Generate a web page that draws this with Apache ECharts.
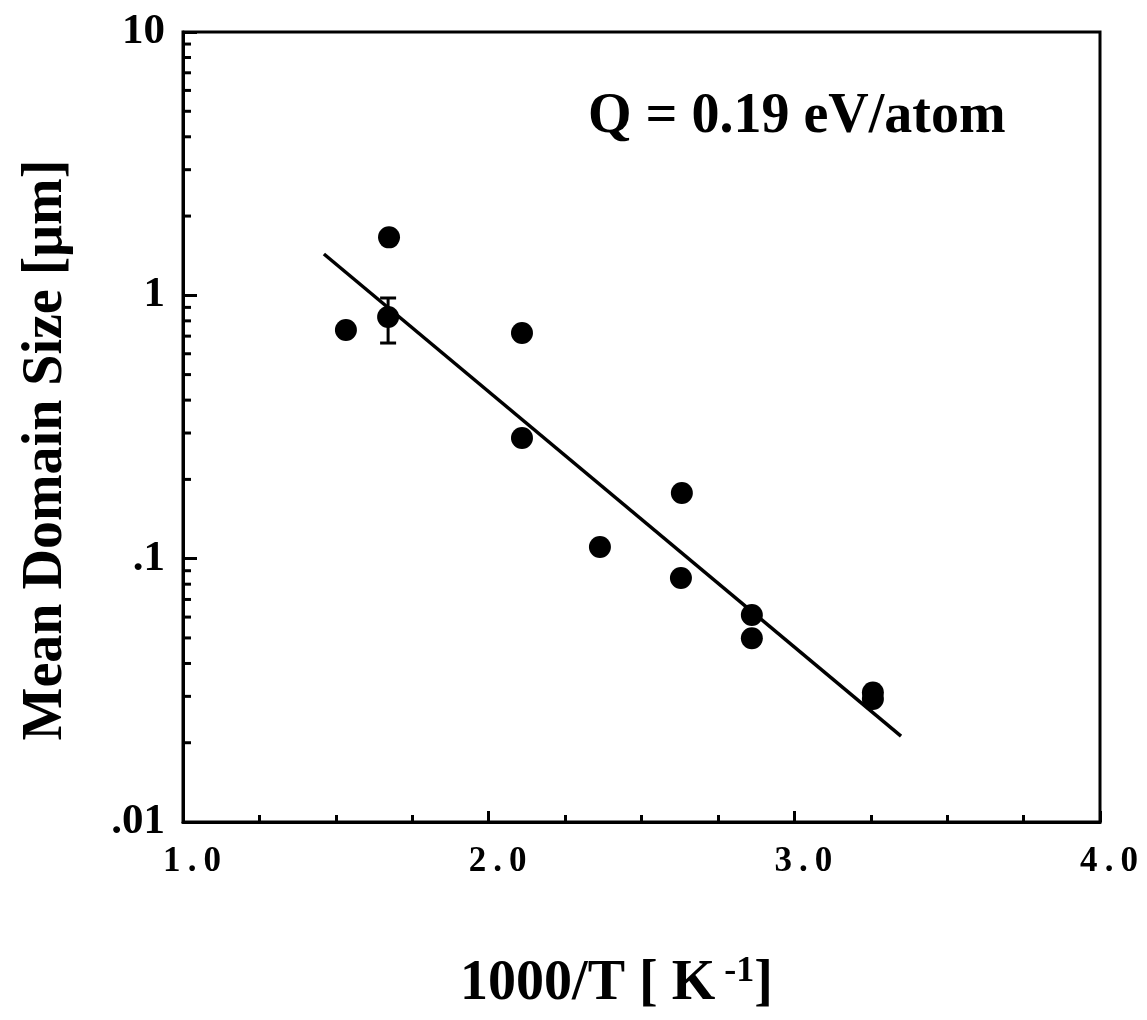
<!DOCTYPE html>
<html>
<head>
<meta charset="utf-8">
<script src="https://cdn.jsdelivr.net/npm/echarts@6/dist/echarts.min.js"></script>
<style>html,body{margin:0;padding:0;background:#fff}#c{width:1147px;height:1020px}</style>
</head>
<body>
<div id="c"></div>
<script>
// Data
const ptX = [1.533, 1.674, 1.671, 2.109, 2.109, 2.364, 2.632, 2.629, 2.861, 2.861, 3.257, 3.257];
const ptY = [0.738, 1.66, 0.827, 0.719, 0.287, 0.1107, 0.1775, 0.0844, 0.0611, 0.0499, 0.0310, 0.0293];
const fitX = [1.461, 3.349];
const fitY = [1.435, 0.0212];
const errX = [1.671];
const errLow = [0.659];
const errHigh = [0.977];
const yTickLabels = {'1': '10', '0': '1', '-1': '.1', '-2': '.01'};
const xTickLabels = {'1': '1\u2009.\u20090', '2': '2\u2009.\u20090', '3': '3\u2009.\u20090', '4': '4\u2009.\u20090'};
const yMinorTicks = [0.02,0.03,0.04,0.05,0.06,0.07,0.08,0.09,0.2,0.3,0.4,0.5,0.6,0.7,0.8,0.9,2,3,4,5,6,7,8,9];

const FONT = "'Liberation Serif','DejaVu Serif',serif";
const chart = echarts.init(document.getElementById('c'), null, {renderer: 'canvas'});
const X_MIN = 1, X_MAX = 4;

chart.setOption({
  animation: false,
  backgroundColor: '#fff',
  grid: {left: 183, top: 32, right: 47, bottom: 198, show: true, borderColor: '#000', borderWidth: 3, backgroundColor: 'transparent'},
  xAxis: {
    type: 'value', min: X_MIN, max: X_MAX, interval: 1,
    axisLine: {show: true, lineStyle: {color: '#000', width: 3}},
    axisTick: {show: true, inside: true, length: 11, lineStyle: {color: '#000', width: 3}},
    minorTick: {show: true, splitNumber: 4, length: 7, lineStyle: {color: '#000', width: 3}},
    splitLine: {show: false},
    axisLabel: {
      margin: 22, color: '#000', fontFamily: FONT, fontWeight: 'bold', fontSize: 35, padding: [0, 0, 0, 18],
      formatter: v => xTickLabels[String(Math.round(v))] || ''
    },
    name: '1000/T [ K{sup| -1}]',
    nameLocation: 'middle', nameGap: 132,
    nameTextStyle: {
      color: '#000', fontFamily: FONT, fontWeight: 'bold', fontSize: 56, padding: [0, 50, 0, 0],
      rich: {sup: {fontFamily: FONT, fontWeight: 'bold', fontSize: 36, color: '#000', verticalAlign: 'bottom', padding: [0, 0, 26, 0]}}
    }
  },
  yAxis: {
    type: 'log', logBase: 10, min: 0.01, max: 10,
    axisLine: {show: true, lineStyle: {color: '#000', width: 3}},
    axisTick: {show: true, inside: true, length: 14, lineStyle: {color: '#000', width: 3}},
    minorTick: {show: false},
    splitLine: {show: false},
    axisLabel: {
      margin: 18, color: '#000', fontFamily: FONT, fontWeight: 'bold', fontSize: 43,
      formatter: v => yTickLabels[String(Math.round(Math.log10(v)))] || ''
    },
    name: 'Mean Domain Size [μm]',
    nameLocation: 'middle', nameGap: 108,
    nameTextStyle: {color: '#000', fontFamily: FONT, fontWeight: 'bold', fontSize: 56, padding: [0, 46, 0, 0]}
  },
  graphic: [{
    type: 'text', left: 588, top: 90,
    style: {text: 'Q = 0.19 eV/atom', fill: '#000', font: "bold 56px " + FONT}
  }],
  series: [
    {
      type: 'custom', name: 'yMinor', silent: true, clip: false,
      data: yMinorTicks.map(v => [X_MIN, v]),
      renderItem: (params, api) => {
        const p = api.coord([api.value(0), api.value(1)]);
        return {type: 'line', shape: {x1: p[0], y1: p[1], x2: p[0] + 8, y2: p[1]}, style: {stroke: '#000', lineWidth: 3}};
      }
    },
    {
      type: 'line', name: 'fit', data: fitX.map((x, i) => [x, fitY[i]]),
      showSymbol: false, symbol: 'none', lineStyle: {color: '#000', width: 3.5}
    },
    {
      type: 'custom', name: 'err',
      data: errX.map((x, i) => [x, errLow[i], errHigh[i]]),
      renderItem: (params, api) => {
        const lo = api.coord([api.value(0), api.value(1)]);
        const hi = api.coord([api.value(0), api.value(2)]);
        const w = 8;
        return {type: 'group', children: [
          {type: 'line', shape: {x1: lo[0], y1: lo[1], x2: hi[0], y2: hi[1]}, style: {stroke: '#000', lineWidth: 3}},
          {type: 'line', shape: {x1: lo[0] - w, y1: lo[1], x2: lo[0] + w, y2: lo[1]}, style: {stroke: '#000', lineWidth: 3}},
          {type: 'line', shape: {x1: hi[0] - w, y1: hi[1], x2: hi[0] + w, y2: hi[1]}, style: {stroke: '#000', lineWidth: 3}}
        ]};
      }
    },
    {
      type: 'scatter', name: 'data', data: ptX.map((x, i) => [x, ptY[i]]),
      symbol: 'circle', symbolSize: 22, itemStyle: {color: '#000', opacity: 1}
    }
  ]
});
</script>
</body>
</html>
